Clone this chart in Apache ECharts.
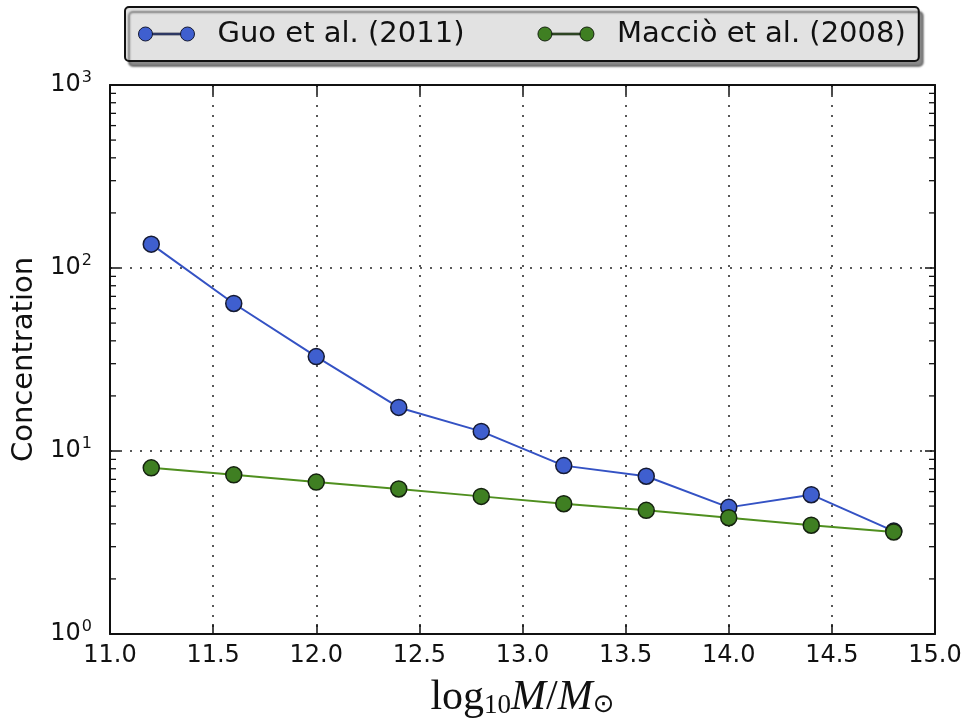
<!DOCTYPE html>
<html>
<head>
<meta charset="utf-8">
<script src="https://cdn.jsdelivr.net/npm/echarts@6/dist/echarts.min.js"></script>
<style>
  html, body { margin: 0; padding: 0; background: #fff; }
  #chart { width: 967px; height: 723px; }
</style>
</head>
<body>
<div id="chart"></div>
<script>
// log10 halo mass bins
const massBins = [11.2, 11.6, 12.0, 12.4, 12.8, 13.2, 13.6, 14.0, 14.4, 14.8];
// concentration, Guo et al. (2011)
const guoConc = [135, 64, 32.8, 17.3, 12.8, 8.32, 7.28, 4.92, 5.77, 3.65];
// concentration, Macciò et al. (2008)
const maccioConc = [8.09, 7.41, 6.76, 6.2, 5.65, 5.15, 4.74, 4.32, 3.93, 3.61];
// log-axis minor tick values
const minorTickValues = [2, 3, 4, 5, 6, 7, 8, 9, 20, 30, 40, 50, 60, 70, 80, 90, 200, 300, 400, 500, 600, 700, 800, 900];

const seriesNames = ['Guo et al. (2011)', 'Macciò et al. (2008)'];
const FONT = "'DejaVu Sans', 'Bitstream Vera Sans', sans-serif";

// two markers joined by a short line
const legendIcon = 'path://M1,8a7,7 0 1,0 14,0a7,7 0 1,0 -14,0Z M43,8a7,7 0 1,0 14,0a7,7 0 1,0 -14,0Z M15,7.2L43,7.2L43,8.8L15,8.8Z';

const gridLine = { show: true, lineStyle: { color: '#222', type: [2, 8], width: 1.5 } };
const frameLine = { show: true, lineStyle: { color: '#111', width: 2 } };

const chart = echarts.init(document.getElementById('chart'), null, { renderer: 'canvas' });

chart.setOption({
  backgroundColor: '#ffffff',
  animation: false,
  grid: { left: 110, right: 32, top: 85, bottom: 89, containLabel: false, outerBoundsMode: 'none' },
  legend: {
    data: seriesNames,
    left: 125, top: 7,
    orient: 'horizontal',
    padding: [8, 13, 8, 13],
    backgroundColor: '#e2e2e2',
    borderColor: '#111',
    borderWidth: 2,
    borderRadius: 4,
    shadowColor: 'rgba(0,0,0,0.45)',
    shadowBlur: 2,
    shadowOffsetX: 4,
    shadowOffsetY: 5,
    itemWidth: 56,
    itemHeight: 14,
    itemGap: 73,
    icon: legendIcon,
    itemStyle: { borderWidth: 1 },
    textStyle: { fontFamily: FONT, fontSize: 29, color: '#111', lineHeight: 35, padding: [3, 0, 0, 18] }
  },
  xAxis: [
    {
      type: 'value', min: 11, max: 15, interval: 0.5,
      position: 'bottom',
      axisLine: frameLine,
      axisTick: { show: true, inside: true, length: 10, lineStyle: { color: '#111', width: 1.5 } },
      axisLabel: {
        margin: 10, fontFamily: FONT, fontSize: 24, color: '#111',
        formatter: v => v.toFixed(1)
      },
      splitLine: gridLine,
      name: '{t|log}{s|10}{i|M}{t|/}{i|M}{o|⊙}',
      nameLocation: 'middle',
      nameGap: 42,
      nameTextStyle: {
        rich: {
          t: { fontFamily: "'Liberation Serif', serif", fontSize: 42, color: '#111' },
          i: { fontFamily: "'Liberation Serif', serif", fontStyle: 'italic', fontSize: 42, color: '#111' },
          s: { fontFamily: "'Liberation Serif', serif", fontSize: 27, color: '#111', padding: [16, 0, 0, 0] },
          o: { fontFamily: "'DejaVu Sans', sans-serif", fontSize: 26, color: '#111', padding: [16, 0, 0, 0] }
        }
      }
    },
    {
      type: 'value', min: 11, max: 15, interval: 0.5,
      position: 'top',
      axisLine: frameLine,
      axisTick: { show: true, inside: true, length: 10, lineStyle: { color: '#111', width: 1.5 } },
      axisLabel: { show: false },
      splitLine: { show: false }
    }
  ],
  yAxis: [
    {
      type: 'log', logBase: 10, min: 1, max: 1000, interval: 1,
      position: 'left',
      axisLine: frameLine,
      axisTick: { show: true, inside: true, length: 10, lineStyle: { color: '#111', width: 1.5 } },
      axisLabel: {
        margin: 18,
        formatter: v => '{b|10}{s|' + Math.round(Math.log10(v)) + '}',
        rich: {
          b: { fontFamily: FONT, fontSize: 24, color: '#111' },
          s: { fontFamily: FONT, fontSize: 16, color: '#111', padding: [0, 0, 14, 1] }
        }
      },
      splitLine: gridLine,
      name: 'Concentration',
      nameLocation: 'middle',
      nameRotate: 90,
      nameGap: 68,
      nameTextStyle: { fontFamily: FONT, fontSize: 29, color: '#111' }
    },
    {
      type: 'log', logBase: 10, min: 1, max: 1000, interval: 1,
      position: 'right',
      axisLine: frameLine,
      axisTick: { show: true, inside: true, length: 10, lineStyle: { color: '#111', width: 1.5 } },
      axisLabel: { show: false },
      splitLine: { show: false }
    }
  ],
  series: [
    {
      // minor ticks of the log axis on both sides of the frame
      type: 'custom',
      silent: true,
      xAxisIndex: 0, yAxisIndex: 0,
      clip: false,
      data: minorTickValues.map(v => [11, v]),
      renderItem: (params, api) => {
        const cs = params.coordSys;
        const y = api.coord([api.value(0), api.value(1)])[1];
        const style = { stroke: '#111', lineWidth: 1.3 };
        return {
          type: 'group',
          children: [
            { type: 'line', shape: { x1: cs.x, y1: y, x2: cs.x + 6, y2: y }, style },
            { type: 'line', shape: { x1: cs.x + cs.width - 6, y1: y, x2: cs.x + cs.width, y2: y }, style }
          ]
        };
      },
      z: 1
    },
    {
      name: seriesNames[0],
      type: 'line',
      xAxisIndex: 0, yAxisIndex: 0,
      data: massBins.map((m, i) => [m, guoConc[i]]),
      symbol: 'circle',
      symbolSize: 16,
      lineStyle: { color: '#3452c4', width: 2 },
      itemStyle: { color: '#3f5fcf', borderColor: '#151a33', borderWidth: 1.5 },
      z: 3
    },
    {
      name: seriesNames[1],
      type: 'line',
      xAxisIndex: 0, yAxisIndex: 0,
      data: massBins.map((m, i) => [m, maccioConc[i]]),
      symbol: 'circle',
      symbolSize: 16,
      lineStyle: { color: '#4f8f1f', width: 2 },
      itemStyle: { color: '#3f7f22', borderColor: '#15220f', borderWidth: 1.5 },
      z: 4
    }
  ]
});
</script>
</body>
</html>
